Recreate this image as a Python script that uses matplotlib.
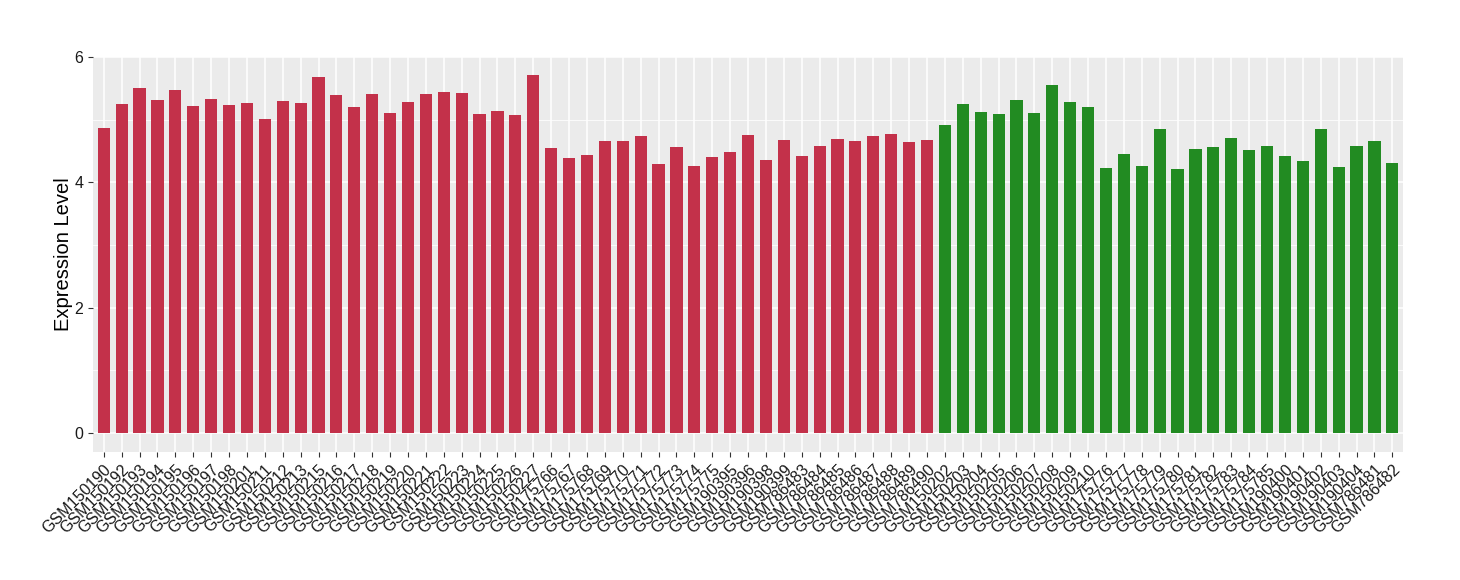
import numpy as np
import matplotlib
matplotlib.use("Agg")
import matplotlib.pyplot as plt
from matplotlib.ticker import MultipleLocator

plt.rcParams['font.family'] = ['Liberation Sans', 'DejaVu Sans']

# samples of the first group (red) and second group (green)
red_samples = ['GSM150190', 'GSM150192', 'GSM150193', 'GSM150194', 'GSM150195', 'GSM150196',
               'GSM150197', 'GSM150198', 'GSM150201', 'GSM150211', 'GSM150212', 'GSM150213',
               'GSM150215', 'GSM150216', 'GSM150217', 'GSM150218', 'GSM150219', 'GSM150220',
               'GSM150221', 'GSM150222', 'GSM150223', 'GSM150224', 'GSM150225', 'GSM150226',
               'GSM150227', 'GSM175766', 'GSM175767', 'GSM175768', 'GSM175769', 'GSM175770',
               'GSM175771', 'GSM175772', 'GSM175773', 'GSM175774', 'GSM175775', 'GSM190395',
               'GSM190396', 'GSM190398', 'GSM190399', 'GSM786483', 'GSM786484', 'GSM786485',
               'GSM786486', 'GSM786487', 'GSM786488', 'GSM786489', 'GSM786490']
red_values = [4.87, 5.25, 5.50, 5.31, 5.47, 5.22, 5.33, 5.23, 5.27, 5.01, 5.30, 5.27,
              5.68, 5.39, 5.20, 5.41, 5.11, 5.28, 5.41, 5.44, 5.43, 5.09, 5.14, 5.07,
              5.71, 4.55, 4.39, 4.44, 4.66, 4.66, 4.74, 4.29, 4.56, 4.26, 4.40, 4.48,
              4.75, 4.36, 4.68, 4.42, 4.58, 4.69, 4.66, 4.74, 4.77, 4.64, 4.68]

green_samples = ['GSM150202', 'GSM150203', 'GSM150204', 'GSM150205', 'GSM150206', 'GSM150207',
                 'GSM150208', 'GSM150209', 'GSM150210', 'GSM175776', 'GSM175777', 'GSM175778',
                 'GSM175779', 'GSM175780', 'GSM175781', 'GSM175782', 'GSM175783', 'GSM175784',
                 'GSM175785', 'GSM190400', 'GSM190401', 'GSM190402', 'GSM190403', 'GSM190404',
                 'GSM786481', 'GSM786482']
green_values = [4.92, 5.25, 5.12, 5.09, 5.31, 5.11, 5.55, 5.28, 5.20, 4.23, 4.45, 4.26,
                4.85, 4.21, 4.53, 4.56, 4.71, 4.52, 4.58, 4.42, 4.34, 4.85, 4.25, 4.58,
                4.66, 4.31]

labels = red_samples + green_samples
values = red_values + green_values
colors = ['#C3314A'] * len(red_samples) + ['#228B22'] * len(green_samples)
x = np.arange(len(labels))

fig = plt.figure(figsize=(14.6, 5.8), dpi=100)
ax = fig.add_axes([0.0637, 0.2207, 0.8973, 0.681])
ax.set_facecolor('#EBEBEB')
ax.bar(x, values, width=0.68, color=colors, zorder=3)

ax.set_xlim(-0.6, len(labels) - 0.4)
ax.set_ylim(-0.3, 6)
ax.yaxis.set_major_locator(MultipleLocator(2))
ax.yaxis.set_minor_locator(MultipleLocator(1))
ax.grid(which='major', color='white', linewidth=1.1, zorder=0)
ax.grid(which='minor', axis='y', color='white', linewidth=0.55, zorder=0)
ax.set_axisbelow(True)

ax.set_xticks(x)
ax.set_xticklabels(labels, rotation=45, ha='right', va='top', rotation_mode='anchor',
                   fontsize=11.5, color='#1a1a1a')
ax.tick_params(axis='y', which='major', labelsize=11.5, labelcolor='#1a1a1a',
               color='#333333', length=3.5, width=0.8)
ax.tick_params(axis='y', which='minor', length=0)
ax.tick_params(axis='x', color='#333333', length=3.5, width=0.8)
for s in ax.spines.values():
    s.set_visible(False)
ax.set_ylabel('Expression Level', fontsize=14.5, labelpad=1)

fig.savefig('out.png', dpi=100)
